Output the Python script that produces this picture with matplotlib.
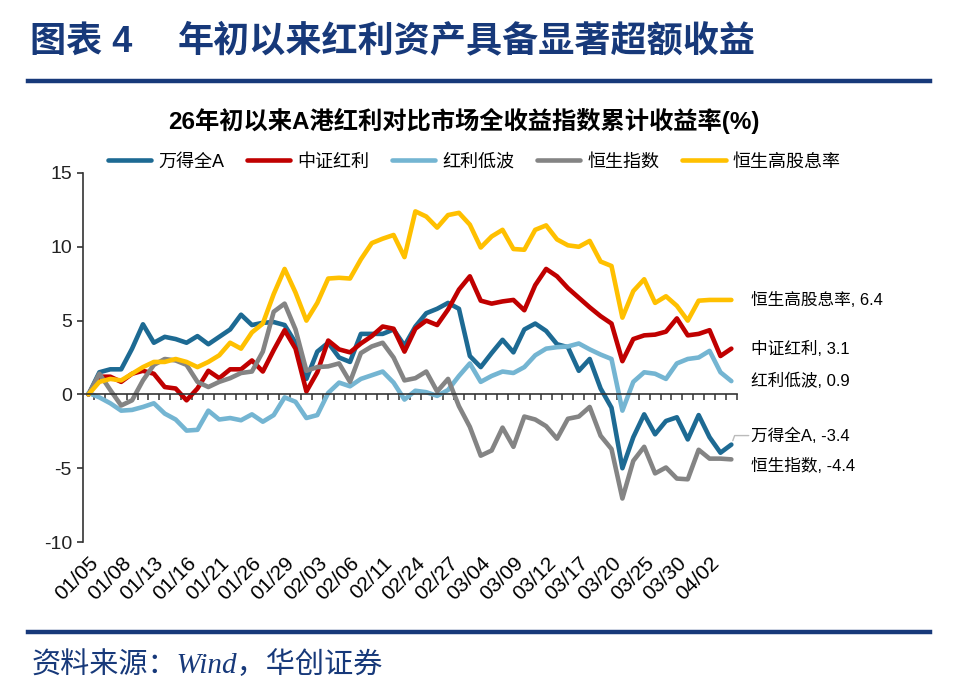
import matplotlib
matplotlib.use("Agg")
import matplotlib.pyplot as plt
from matplotlib.lines import Line2D

plt.rcParams['font.family'] = ['Liberation Sans', 'Noto Sans CJK SC']
plt.rcParams['axes.unicode_minus'] = False

# trading days since 2026-01-05
dates = [
    "01/05", "01/06", "01/07", "01/08", "01/09", "01/12", "01/13", "01/14", "01/15", "01/16",
    "01/19", "01/20", "01/21", "01/22", "01/23", "01/26", "01/27", "01/28", "01/29", "01/30",
    "02/02", "02/03", "02/04", "02/05", "02/06", "02/09", "02/10", "02/11", "02/12", "02/13",
    "02/24", "02/25", "02/26", "02/27", "03/02", "03/03", "03/04", "03/05", "03/06", "03/09",
    "03/10", "03/11", "03/12", "03/13", "03/16", "03/17", "03/18", "03/19", "03/20", "03/23",
    "03/24", "03/25", "03/26", "03/27", "03/30", "03/31", "04/01", "04/02", "04/03", "04/07",
]

wind_a = [
    0, 1.5, 1.7, 1.7, 3.1, 4.75, 3.5, 3.9, 3.75, 3.5,
    3.95, 3.4, 3.9, 4.4, 5.4, 4.7, 4.85, 4.9, 4.7, 3.5,
    1.05, 2.9, 3.5, 2.5, 2.2, 4.1, 4.1, 4.1, 4.4, 3.3,
    4.6, 5.5, 5.8, 6.2, 5.8, 2.6, 1.85, 2.8, 3.7, 2.85,
    4.4, 4.8, 4.3, 3.4, 3.2, 1.6, 2.4, 0.4, -0.9, -5.0,
    -2.9, -1.35, -2.7, -1.8, -1.55, -3.05, -1.4, -2.9, -3.95, -3.4,
]
csi_div = [
    0, 1.2, 1.2, 0.85, 1.4, 1.6, 1.4, 0.5, 0.4, -0.4,
    0.4, 1.6, 1.1, 1.7, 1.7, 2.3, 1.55, 3.0, 4.35, 3.1,
    0.2, 1.5, 3.65, 3.05, 2.85, 3.45, 3.95, 4.6, 4.45, 2.9,
    4.45, 5.0, 4.7, 5.75, 7.1, 8.0, 6.35, 6.15, 6.3, 6.4,
    5.7, 7.4, 8.5, 8.0, 7.2, 6.55, 5.9, 5.3, 4.8, 2.25,
    3.75, 4.0, 4.05, 4.25, 5.15, 4.0, 4.1, 4.35, 2.6, 3.1,
]
div_lowvol = [
    0.1, -0.2, -0.6, -1.1, -1.05, -0.85, -0.6, -1.3, -1.7, -2.45,
    -2.4, -1.1, -1.7, -1.6, -1.75, -1.35, -1.85, -1.4, -0.2, -0.5,
    -1.6, -1.4, 0.1, 0.8, 0.55, 1.05, 1.3, 1.55, 0.8, -0.35,
    0.25, 0.15, -0.1, 0.3, 1.25, 2.1, 0.85, 1.25, 1.55, 1.45,
    1.85, 2.65, 3.1, 3.2, 3.25, 3.45, 3.05, 2.7, 2.4, -1.1,
    0.85, 1.5, 1.4, 1.05, 2.1, 2.4, 2.5, 2.95, 1.5, 0.9,
]
hsi = [
    0, 1.4, 0.3, -0.75, -0.4, 0.95, 2.0, 2.4, 2.3, 2.0,
    0.85, 0.5, 0.85, 1.1, 1.45, 1.55, 2.9, 5.6, 6.15, 4.4,
    1.6, 1.85, 1.9, 2.1, 0.85, 2.8, 3.25, 3.5, 2.5, 0.95,
    1.1, 1.55, 0.2, 1.05, -0.8, -2.2, -4.15, -3.8, -2.25, -3.55,
    -1.5, -1.7, -2.15, -3.0, -1.65, -1.5, -0.85, -2.8, -3.7, -7.05,
    -4.5, -3.55, -5.35, -4.95, -5.7, -5.75, -3.75, -4.35, -4.35, -4.4,
]
hs_highdiv = [
    0, 0.85, 1.05, 0.95, 1.4, 1.85, 2.2, 2.2, 2.4, 2.2,
    1.85, 2.2, 2.65, 3.5, 3.1, 4.2, 4.8, 6.8, 8.5, 6.9,
    5.0, 6.2, 7.85, 7.9, 7.85, 9.15, 10.25, 10.55, 10.8, 9.3,
    12.4, 12.05, 11.3, 12.15, 12.3, 11.5, 9.95, 10.7, 11.15, 9.85,
    9.8, 11.15, 11.45, 10.5, 10.1, 10.0, 10.4, 9.0, 8.7, 5.2,
    7.0, 7.8, 6.2, 6.65, 6.0, 5.0, 6.35, 6.4, 6.4, 6.4,
]

series_names = ["万得全A", "中证红利", "红利低波", "恒生指数", "恒生高股息率"]
series_values = [wind_a, csi_div, div_lowvol, hsi, hs_highdiv]
colors = ["#1D6A93", "#C00000", "#74B5D2", "#848484", "#FFC000"]
# label offsets (points) for the end-of-line tags
label_dy = [6.5, 0, 0, -5, 0]

navy = "#17397A"
x = list(range(len(dates)))

fig = plt.figure(figsize=(9.6, 6.95), dpi=100)
ax = fig.add_axes([0.0865, 0.2201, 0.681, 0.531])

for name, vals, c in zip(series_names, series_values, colors):
    ax.plot(x, vals, color=c, lw=3.3, label=name, solid_joinstyle='round', solid_capstyle='round')

ax.set_xlim(-0.5, len(dates) - 0.5)
ax.set_ylim(-10, 15)
ax.set_yticks([-10, -5, 0, 5, 10, 15])
ax.tick_params(axis='y', direction='out', length=4.5, width=1.1, labelsize=14, colors='#222222')

# zero line carries the category ticks
for s in ['top', 'right']:
    ax.spines[s].set_visible(False)
ax.spines['left'].set_color('#333333')
ax.spines['left'].set_linewidth(1.2)
ax.spines['bottom'].set_position(('data', 0))
ax.spines['bottom'].set_color('#333333')
ax.spines['bottom'].set_linewidth(1.2)
ax.set_xticks([i + 0.5 for i in x])
ax.set_xticklabels([])
ax.tick_params(axis='x', direction='out', length=4.5, width=1.1, colors='#333333')

# date labels at the bottom of the axes
sec = ax.secondary_xaxis(0.0)
sec.set_xticks(x[::3])
sec.set_xticklabels(dates[::3], rotation=45, ha='right', rotation_mode='anchor', fontsize=15)
sec.tick_params(length=0, pad=8)
sec.spines['bottom'].set_visible(False)

# end-of-line tags
for i, (name, vals) in enumerate(zip(series_names, series_values)):
    txt = f"{name}, {vals[-1]:.1f}"
    if i == 0:
        ax.annotate(txt, xy=(x[-1], vals[-1]), xytext=(14.5, label_dy[i]), textcoords='offset points',
                    fontsize=12, va='center', ha='left', annotation_clip=False,
                    arrowprops=dict(arrowstyle='-', color='#BBBBBB', lw=1,
                                    connectionstyle='angle,angleA=0,angleB=70,rad=0',
                                    shrinkA=0, shrinkB=3))
    else:
        ax.annotate(txt, xy=(x[-1], vals[-1]), xytext=(14.5, label_dy[i]), textcoords='offset points',
                    fontsize=12, va='center', ha='left', annotation_clip=False)

leg = fig.legend(loc='center', bbox_to_anchor=(0.494, 0.767), ncol=5, frameon=False,
                 fontsize=13, handlelength=2.4, handletextpad=0.4, columnspacing=1.25)
for h in leg.get_lines():
    h.set_linewidth(3.3)

# headings
fig.text(30 / 960, 1 - 42 / 695, "图表 4", fontsize=26, fontweight='bold', color=navy, va='center')
fig.text(178 / 960, 1 - 42 / 695, "年初以来红利资产具备显著超额收益", fontsize=26, fontweight='bold',
         color=navy, va='center')
fig.text(0.483, 1 - 121 / 695, "26年初以来A港红利对比市场全收益指数累计收益率(%)", fontsize=17.5,
         fontweight='bold', ha='center', va='center', color='black')

fig.add_artist(Line2D([28 / 960, 930 / 960], [1 - 81 / 695, 1 - 81 / 695], color=navy, lw=3.2))
fig.add_artist(Line2D([28 / 960, 930 / 960], [1 - 632 / 695, 1 - 632 / 695], color=navy, lw=3.2))

fig.text(32 / 960, 1 - 665 / 695, "资料来源：Wind，华创证券", fontsize=21, color=navy, va='center',
         family=['Liberation Serif', 'Noto Sans CJK SC'], style='italic')

fig.savefig("out.png", dpi=100)
